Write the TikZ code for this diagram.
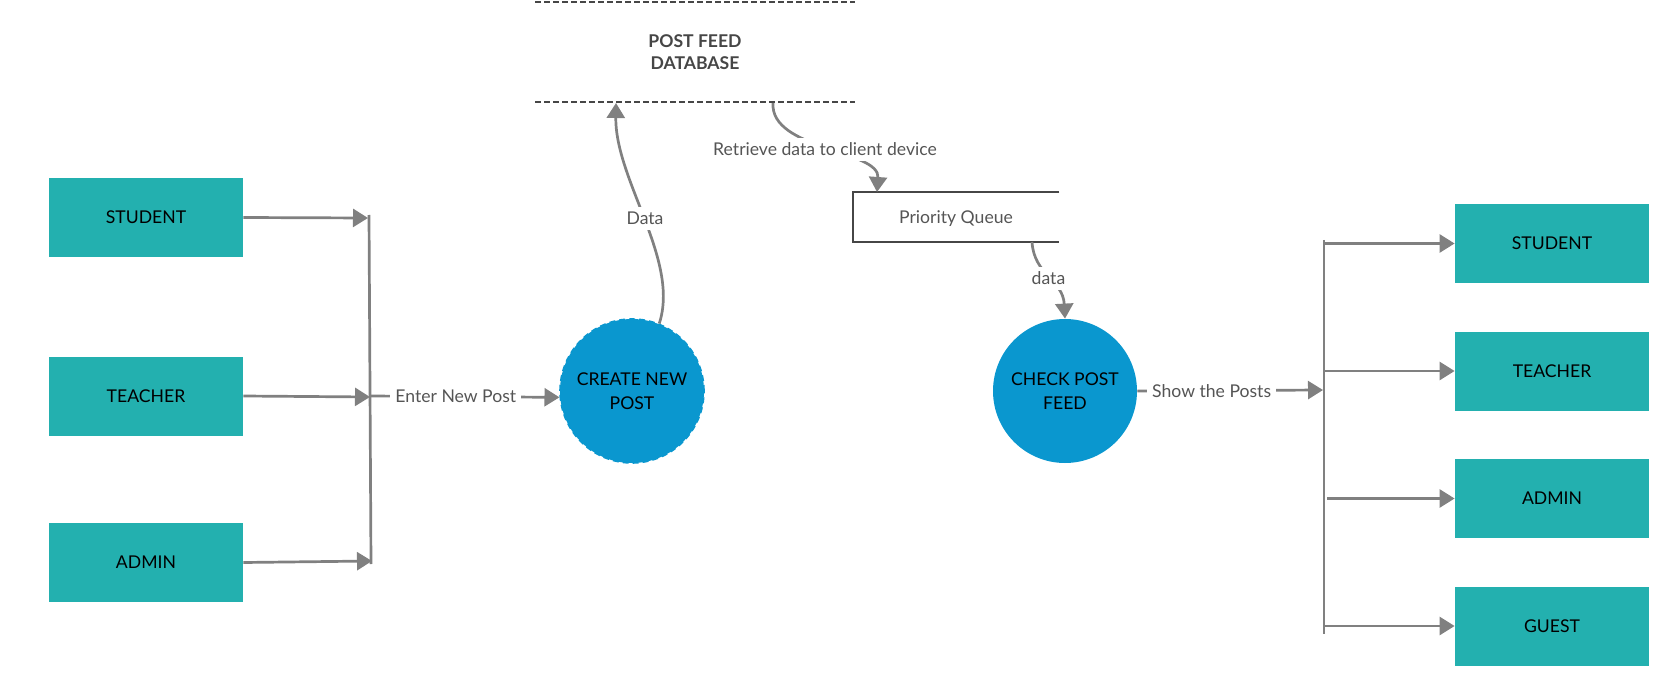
\documentclass[tikz,border=0pt]{standalone}
\usepackage{fontspec}
\setmainfont{Lato}
\usepackage{tikz}
\definecolor{tl}{RGB}{35, 176, 175}
\definecolor{bl}{RGB}{10, 151, 207}
\definecolor{gr}{RGB}{128, 128, 128}
\definecolor{dk}{RGB}{70, 70, 70}
\definecolor{lb}{RGB}{85, 85, 85}
\usetikzlibrary{arrows.meta}

\begin{document}
\begin{tikzpicture}
			[x=0.5pt, y=-0.5pt, every node/.style={inner sep=0pt, font=\fontsize{8.8}{11.5}\selectfont},
			actor/.style={rectangle, minimum width=97pt, minimum height=39.5pt, fill=tl, text=black},
			proc/.style={circle, minimum size=72pt, fill=bl, align=center, text=black, font=\fontsize{8.8}{12}\selectfont},
			flow/.style={line width=1.35pt, color=gr, -{Triangle[length=7.5pt, width=9pt]}},
			bus/.style={line width=1.35pt, color=gr},
			lbl/.style={fill=white, inner sep=2.5pt, text=lb}]
			\useasboundingbox (0, 0) rectangle (1675, 695);
			\node (a1) [actor] at (146, 217.5) {STUDENT};
			\node (a2) [actor] at (146, 396) {TEACHER};
			\node (a3) [actor] at (146, 562.5) {ADMIN};
			\node (b1) [actor] at (1552, 243.5) {STUDENT};
			\node (b2) [actor] at (1552, 371) {TEACHER};
			\node (b3) [actor] at (1552, 498.5) {ADMIN};
			\node (b4) [actor] at (1552, 626) {GUEST};
			\node (p1) [proc, draw=bl, densely dashed, line width=0.8pt] at (632, 391) {CREATE NEW\\POST};
			\node (p2) [proc] at (1065, 391) {CHECK POST\\FEED};
			\node (db) [align=center, text=dk, font=\fontsize{8.8}{11}\selectfont\bfseries] at (695, 52) {POST FEED\\DATABASE};
			\node (pq) [minimum width=103pt, minimum height=25pt, text depth=0pt, text=lb] at (956, 217) {Priority Queue};
			% data store edges
			\draw [line width=1.2pt, color=dk, dash pattern=on 3pt off 1.5pt] (535, 2) -- (855, 2);
			\draw [line width=1.2pt, color=dk, dash pattern=on 3pt off 1.5pt] (535, 102) -- (855, 102);
			\draw [line width=1pt, color=dk] (pq.north east) -- (pq.north west) -- (pq.south west) -- (pq.south east);
			\coordinate (dbin) at (616, 103);
			\coordinate (dbout) at (773, 103);
			\coordinate (pqin) at (877, 192);
			\coordinate (pqout) at (1032, 242);
			% left bus
			\coordinate (l0) at (369, 215);
			\coordinate (l4) at (371, 564);
			\coordinate (l1) at (368, 218);
			\coordinate (l2) at (370, 397);
			\coordinate (l3) at (372, 561);
			\coordinate (lout) at (371, 396);
			\draw [bus] (l0) -- (l4);
			\draw [flow] (a1.east) -- (l1);
			\draw [flow] (a2.east) -- (l2);
			\draw [flow] (a3.east) -- (l3);
			\draw [flow] (lout) -- (p1.185) node [lbl, pos=0.45] {Enter New Post};
			% right bus
			\coordinate (r0) at (1324, 240);
			\coordinate (r5) at (1324, 634);
			\coordinate (r1) at (1324, 243.5);
			\coordinate (r2) at (1324, 371);
			\coordinate (r3) at (1327, 498.5);
			\coordinate (r4) at (1324, 626);
			\coordinate (rin) at (1323, 390);
			\draw [bus] (r0) -- (r5);
			\draw [flow] (r1) -- (b1.west);
			\draw [flow] (r2) -- (b2.west);
			\draw [flow] (r3) -- (b3.west);
			\draw [flow] (r4) -- (b4.west);
			\draw [flow] (p2.east) -- (rin) node [lbl, pos=0.4] {Show the Posts};
			% flows to and from the stores
			\draw [flow] (p1.68) .. controls (680, 260) and (615, 180) .. (dbin) node [lbl, pos=0.5] {Data};
			\draw [flow] (dbout) .. controls (770, 150) and (880, 150) .. (pqin) node [lbl, pos=0.5] {Retrieve data to client device};
			\draw [flow] (pqout) .. controls (1034, 275) and (1063, 280) .. (p2.north) node [lbl, pos=0.5] {data};
	\end{tikzpicture}
\end{document}
